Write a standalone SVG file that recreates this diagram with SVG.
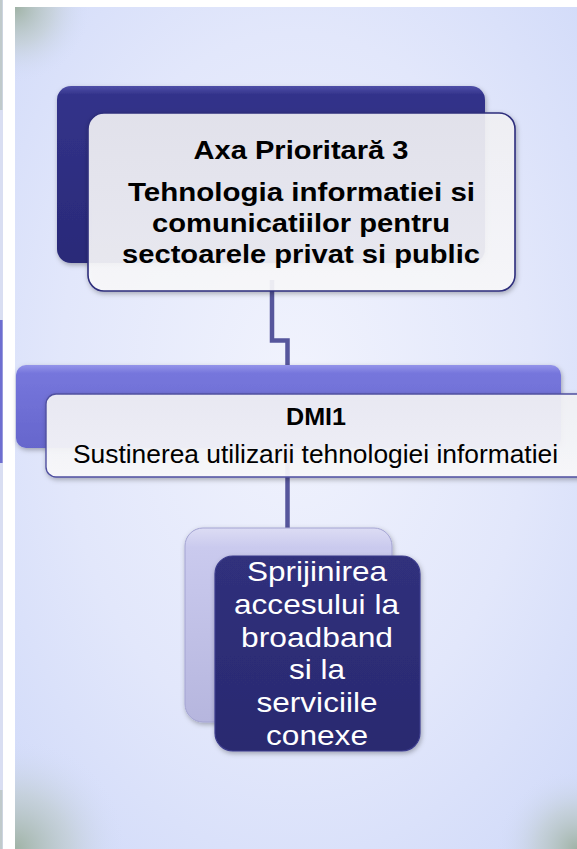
<svg xmlns="http://www.w3.org/2000/svg" width="577" height="849" viewBox="0 0 577 849">
  <style>
    .t { font-family: "Liberation Sans", Arial, sans-serif; text-anchor: middle; }
    .b { font-weight: bold; fill: #000; }
    .r { fill: #000; }
    .w { fill: #fff; }
    .conn { fill: none; stroke: #56569c; stroke-width: 4.5; }
  </style>
  <defs>
    <radialGradient id="bg" cx="0.5" cy="0.45" r="0.7">
      <stop offset="0" stop-color="#f1f3fd"/>
      <stop offset="0.6" stop-color="#e2e7fb"/>
      <stop offset="1" stop-color="#d2dbf9"/>
    </radialGradient>
    <radialGradient id="smudge" cx="0.5" cy="0.5" r="0.5">
      <stop offset="0" stop-color="#9aae9c" stop-opacity="0.9"/>
      <stop offset="0.5" stop-color="#b8c6c0" stop-opacity="0.5"/>
      <stop offset="1" stop-color="#d2dbf9" stop-opacity="0"/>
    </radialGradient>
    <linearGradient id="navyBack" x1="0" y1="0" x2="0" y2="1">
      <stop offset="0" stop-color="#5050a8"/>
      <stop offset="0.05" stop-color="#32328a"/>
      <stop offset="1" stop-color="#2a2a78"/>
    </linearGradient>
    <linearGradient id="purpleBack" x1="0" y1="0" x2="0" y2="1">
      <stop offset="0" stop-color="#9494ea"/>
      <stop offset="0.1" stop-color="#7676dc"/>
      <stop offset="1" stop-color="#6666cc"/>
    </linearGradient>
    <linearGradient id="lavBack" x1="0" y1="0" x2="0" y2="1">
      <stop offset="0" stop-color="#dcdcf4"/>
      <stop offset="0.1" stop-color="#cacaee"/>
      <stop offset="1" stop-color="#b6b6de"/>
    </linearGradient>
    <linearGradient id="lightFront" x1="0" y1="0" x2="0" y2="1">
      <stop offset="0" stop-color="#f2f2f6"/>
      <stop offset="1" stop-color="#fafafc"/>
    </linearGradient>
    <linearGradient id="navyFront" x1="0" y1="0" x2="0" y2="1">
      <stop offset="0" stop-color="#30307c"/>
      <stop offset="1" stop-color="#2a2a70"/>
    </linearGradient>
    <filter id="sh" x="-10%" y="-10%" width="130%" height="130%">
      <feDropShadow dx="1" dy="2" stdDeviation="2.5" flood-color="#000" flood-opacity="0.3"/>
    </filter>
  </defs>

  <!-- page -->
  <rect x="0" y="0" width="577" height="849" fill="#ffffff"/>
  <rect x="0" y="0" width="3" height="849" fill="#d9def2"/>
  <rect x="0" y="0" width="2.5" height="110" fill="#c0cacb"/>
  <rect x="0" y="790" width="2.5" height="59" fill="#c0cacb"/>
  <rect x="0" y="320" width="2.6" height="143" fill="#6e6ed0"/>
  <rect x="15" y="7" width="562" height="842" fill="url(#bg)"/>
  <svg x="15" y="7" width="562" height="842" overflow="hidden">
    <circle cx="0" cy="0" r="75" fill="url(#smudge)"/>
    <circle cx="0" cy="842" r="110" fill="url(#smudge)"/>
    <circle cx="562" cy="842" r="80" fill="url(#smudge)"/>
  </svg>

  <!-- connectors -->
  <g id="connectors">
    <path class="conn" d="M272,280 V340.5 H287.5 V370"/>
    <path class="conn" d="M287.5,440 V530"/>
  </g>

  <!-- node 1 -->
  <g id="node-axa">
    <rect x="57" y="86" width="428" height="177" rx="14" fill="url(#navyBack)" filter="url(#sh)"/>
    <rect x="88" y="113" width="427" height="178" rx="16" fill="url(#lightFront)" fill-opacity="0.9" stroke="#2e2e7c" stroke-width="1.6" filter="url(#sh)"/>
    <text class="t b" x="301" y="159" font-size="26" textLength="215" lengthAdjust="spacingAndGlyphs">Axa Prioritară 3</text>
    <text class="t b" x="301.5" y="201" font-size="26" textLength="347" lengthAdjust="spacingAndGlyphs">Tehnologia informatiei si</text>
    <text class="t b" x="301" y="232" font-size="26" textLength="298" lengthAdjust="spacingAndGlyphs">comunicatiilor pentru</text>
    <text class="t b" x="301" y="263" font-size="26" textLength="358" lengthAdjust="spacingAndGlyphs">sectoarele privat si public</text>
  </g>

  <!-- node 2 -->
  <g id="node-dmi1">
    <rect x="16" y="365" width="545" height="83" rx="10" fill="url(#purpleBack)" filter="url(#sh)"/>
    <rect x="46" y="394" width="545" height="83" rx="10" fill="url(#lightFront)" fill-opacity="0.92" stroke="#5050a0" stroke-width="1.4" filter="url(#sh)"/>
    <text class="t b" x="316" y="425" font-size="24" textLength="60" lengthAdjust="spacingAndGlyphs">DMI1</text>
    <text class="t r" x="315.5" y="463" font-size="26" textLength="485" lengthAdjust="spacingAndGlyphs">Sustinerea utilizarii tehnologiei informatiei</text>
  </g>

  <!-- node 3 -->
  <g id="node-broadband">
    <rect x="185" y="528" width="207" height="194" rx="18" fill="url(#lavBack)" stroke="#a4a4d2" stroke-width="1" filter="url(#sh)"/>
    <rect x="215" y="556" width="205" height="195" rx="18" fill="url(#navyFront)" stroke="#3c3c8c" stroke-width="1.2" filter="url(#sh)"/>
    <text class="t w" x="317" y="581" font-size="28" textLength="140" lengthAdjust="spacingAndGlyphs">Sprijinirea</text>
    <text class="t w" x="316.5" y="613.8" font-size="28" textLength="165" lengthAdjust="spacingAndGlyphs">accesului la</text>
    <text class="t w" x="317" y="646.6" font-size="28" textLength="152" lengthAdjust="spacingAndGlyphs">broadband</text>
    <text class="t w" x="317" y="679.4" font-size="28" textLength="56" lengthAdjust="spacingAndGlyphs">si la</text>
    <text class="t w" x="317" y="712.2" font-size="28" textLength="121" lengthAdjust="spacingAndGlyphs">serviciile</text>
    <text class="t w" x="317" y="745" font-size="28" textLength="102" lengthAdjust="spacingAndGlyphs">conexe</text>
  </g>
</svg>
